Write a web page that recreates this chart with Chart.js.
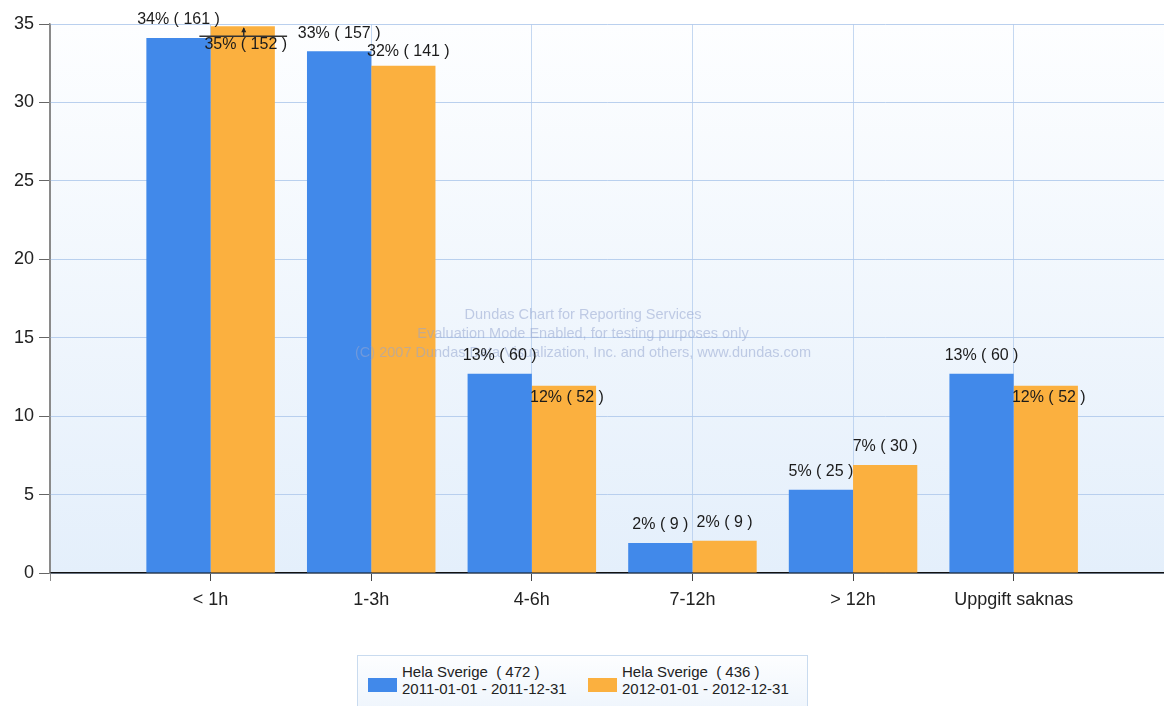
<!DOCTYPE html>
<html>
<head>
<meta charset="utf-8">
<script src="https://cdn.jsdelivr.net/npm/chart.js@4.4.1/dist/chart.umd.min.js"></script>
<style>
  html, body { margin: 0; padding: 0; background: #fff; overflow: hidden; }
  #wrap { position: relative; width: 1164px; height: 706px; }
  #legend {
    position: absolute; left: 357px; top: 655px; width: 451px; height: 62px;
    box-sizing: border-box; border: 1px solid #c9dbef;
    background: linear-gradient(#fdfeff, #edf4fc);
    font-family: "Liberation Sans", Arial, sans-serif; font-size: 15px; color: #222;
  }
  .item { position: absolute; top: 7px; display: flex; align-items: flex-start; }
  .sw { width: 29px; height: 14px; margin-top: 15px; margin-right: 5px; }
  .txt { line-height: 17px; white-space: pre; }
</style>
</head>
<body>
<div id="wrap">
  <canvas id="c" width="1164" height="706"></canvas>
  <div id="legend"></div>
</div>
<script>
// Response time categories
const categories = ['< 1h', '1-3h', '4-6h', '7-12h', '> 12h', 'Uppgift saknas'];

// Share of cases (%) per category
const share2011 = [34.11, 33.26, 12.71, 1.91, 5.30, 12.71];
const share2012 = [34.86, 32.34, 11.93, 2.06, 6.88, 11.93];

// Number of cases per category
const count2011 = [161, 157, 60, 9, 25, 60];
const count2012 = [152, 141, 52, 9, 30, 52];

// Series names, totals and periods
const seriesNames = ['Hela Sverige', 'Hela Sverige'];
const seriesTotals = [472, 436];
const seriesPeriods = ['2011-01-01 - 2011-12-31', '2012-01-01 - 2012-12-31'];

// Value axis ticks
const yTicks = [0, 5, 10, 15, 20, 25, 30, 35];

const FONT = '"Liberation Sans", Arial, sans-serif';
const colors = ['#4189EA', '#FBB03F'];

// Plot background: soft vertical gradient inside the chart area
const backgroundPlugin = {
  id: 'plotBackground',
  beforeDraw(chart) {
    const { ctx, chartArea: a } = chart;
    ctx.save();
    ctx.fillStyle = '#ffffff';
    ctx.fillRect(0, 0, chart.width, chart.height);
    const g = ctx.createLinearGradient(0, a.top, 0, a.bottom);
    g.addColorStop(0, '#fdfeff');
    g.addColorStop(1, '#e4effb');
    ctx.fillStyle = g;
    ctx.fillRect(a.left, a.top, a.right - a.left, a.bottom - a.top);
    ctx.restore();
  }
};

// Evaluation watermark and the value labels above the bars
const labelPlugin = {
  id: 'valueLabels',
  afterDatasetsDraw(chart, args, opts) {
    const { ctx } = chart;
    ctx.save();
    // watermark
    ctx.font = '14.5px ' + FONT;
    ctx.fillStyle = 'rgba(150, 166, 208, 0.55)';
    ctx.textAlign = 'center';
    ctx.textBaseline = 'middle';
    const wx = 583;
    ['Dundas Chart for Reporting Services',
     'Evaluation Mode Enabled, for testing purposes only',
     '(C) 2007 Dundas Data Visualization, Inc. and others, www.dundas.com']
      .forEach((t, k) => ctx.fillText(t, wx, 315 + k * 19));

    // value labels
    ctx.font = '16px ' + FONT;
    ctx.fillStyle = '#1b1b1b';
    ctx.strokeStyle = '#333';
    chart.data.datasets.forEach((ds, di) => {
      const meta = chart.getDatasetMeta(di);
      meta.data.forEach((bar, i) => {
        const v = ds.data[i].y;
        const text = Math.round(v) + '% ( ' + ds.counts[i] + ' )';
        const mode = opts.placement[di][i];
        const w = ctx.measureText(text).width;
        let x = bar.x, y = bar.y - 18;
        if (mode === 'inside') { x = bar.x + 3; y = bar.y + 12; }
        if (mode === 'callout') {
          x = bar.x + 3; y = bar.y + 18;
          const ly = bar.y + 10;
          ctx.lineWidth = 1.5;
          ctx.beginPath();
          ctx.moveTo(x - w / 2 - 5, ly);
          ctx.lineTo(x + w / 2, ly);
          ctx.moveTo(bar.x + 1, ly);
          ctx.lineTo(bar.x + 1, bar.y + 2);
          ctx.stroke();
          ctx.beginPath();
          ctx.moveTo(bar.x + 1, bar.y + 1);
          ctx.lineTo(bar.x - 1.5, bar.y + 6);
          ctx.lineTo(bar.x + 3.5, bar.y + 6);
          ctx.closePath();
          ctx.fillStyle = '#222';
          ctx.fill();
          ctx.fillStyle = '#1b1b1b';
        }
        if (mode === 'high') { x = bar.x + 5; y = bar.y - 14; }
        ctx.fillText(text, x, y);
      });
    });
    ctx.restore();
  }
};

const chart = new Chart(document.getElementById('c'), {
  type: 'bar',
  data: {
    datasets: [
      {
        label: seriesNames[0],
        data: categories.map((c, i) => ({ x: i + 1, y: share2011[i] })),
        counts: count2011,
        backgroundColor: colors[0]
      },
      {
        label: seriesNames[1],
        data: categories.map((c, i) => ({ x: i + 1, y: share2012[i] })),
        counts: count2012,
        backgroundColor: colors[1]
      }
    ]
  },
  options: {
    responsive: false,
    animation: false,
    devicePixelRatio: 1,
    layout: { padding: { top: 24, left: 0, right: 0, bottom: 0 } },
    datasets: { bar: { categoryPercentage: 0.8, barPercentage: 1.0 } },
    plugins: {
      legend: { display: false },
      tooltip: { enabled: false },
      valueLabels: {
        placement: [
          ['above', 'above', 'above', 'above', 'above', 'above'],
          ['callout', 'high', 'inside', 'above', 'above', 'inside']
        ]
      }
    },
    scales: {
      x: {
        type: 'linear',
        offset: false,
        min: 0,
        max: 6.936,
        afterBuildTicks: s => {
          s.ticks = [0, ...categories.map((c, i) => i + 1)].map(v => ({ value: v }));
        },
        afterFit: s => { s.height = 133; },
        ticks: {
          autoSkip: false,
          maxRotation: 0,
          padding: 8,
          color: '#222',
          font: { family: FONT, size: 18 },
          callback: v => categories[v - 1] || ''
        },
        grid: {
          offset: false,
          color: ctx => ctx.tick && ctx.tick.value === 0 ? '#8a8a8a' : 'rgba(178, 203, 236, 0.75)',
          tickLength: 8,
          tickColor: ctx => ctx.tick && ctx.tick.value === 0 ? '#8a8a8a' : '#444'
        },
        border: { color: '#111', width: 1.5 }
      },
      y: {
        min: 0,
        max: 35,
        afterBuildTicks: s => { s.ticks = yTicks.map(v => ({ value: v })); },
        afterFit: s => { s.width = 50; },
        ticks: {
          padding: 5,
          color: '#222',
          font: { family: FONT, size: 18 }
        },
        grid: {
          color: 'rgba(178, 203, 236, 0.9)',
          tickLength: 11,
          tickColor: '#666'
        },
        border: { color: '#8a8a8a', width: 1.5 }
      }
    }
  },
  plugins: [backgroundPlugin, labelPlugin]
});

// Legend built from the series
const legend = document.getElementById('legend');
chart.data.datasets.forEach((ds, i) => {
  const item = document.createElement('div');
  item.className = 'item';
  item.style.left = (i === 0 ? 10 : 230) + 'px';
  const sw = document.createElement('div');
  sw.className = 'sw';
  sw.style.background = ds.backgroundColor;
  const txt = document.createElement('div');
  txt.className = 'txt';
  txt.textContent = ds.label + '  ( ' + seriesTotals[i] + ' )\n' + seriesPeriods[i];
  item.appendChild(sw);
  item.appendChild(txt);
  legend.appendChild(item);
});
</script>
</body>
</html>
